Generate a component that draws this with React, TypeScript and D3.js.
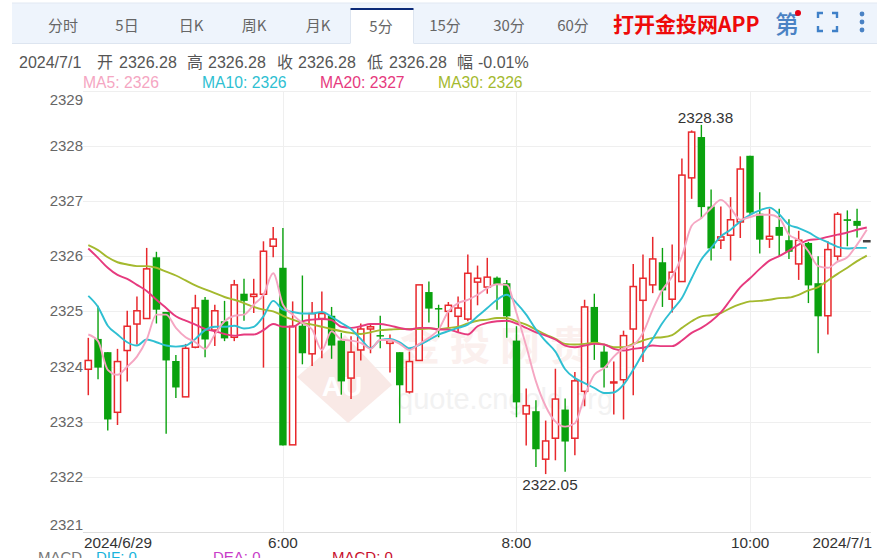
import { scaleLinear, line as d3line, curveMonotoneX } from "d3";

const tabs = ["分时", "5日", "日K", "周K", "月K", "5分", "15分", "30分", "60分"];
const tabCenters = [63, 127, 191, 254, 318, 381, 445, 509, 573];
const activeTab = 5;

const priceTicks = [2329, 2328, 2327, 2326, 2325, 2324, 2323, 2322, 2321];
const timeLabels = ["6:00", "8:00", "10:00"];
const timeIndex = [20, 44, 68];

const infoParts = ["2024/7/1", "开", "2326.28", "高", "2326.28", "收", "2326.28", "低", "2326.28", "幅", "-0.01%"];
const infoX = [19, 97, 119, 187, 208, 277, 298, 367, 389, 457, 478];

const maLabels = ["MA5: 2326", "MA10: 2326", "MA20: 2327", "MA30: 2326"];
const maLabelX = [83, 202, 320, 438];
const maColors = ["#f5a6c2", "#2fbfd2", "#e63a7e", "#a4b92e"];

const opens = [2323.95, 2324.5, 2324.26, 2323.17, 2324.29, 2324.77, 2324.87, 2325.98, 2324.99, 2324.1, 2323.45, 2324.35, 2325.21, 2324.66, 2324.82, 2324.53, 2325.32, 2325.27, 2325.31, 2326.18, 2325.79, 2322.58, 2324.74, 2324.23, 2324.87, 2324.92, 2324.47, 2323.79, 2324.3, 2324.68, 2324.57, 2324.42, 2324.26, 2323.54, 2324.11, 2325.35, 2325.06, 2325.0, 2324.91, 2324.86, 2325.53, 2325.44, 2325.61, 2325.51, 2324.47, 2323.14, 2323.19, 2322.32, 2322.7, 2323.22, 2322.7, 2323.55, 2325.08, 2324.27, 2323.71, 2323.76, 2324.68, 2325.2, 2325.48, 2325.89, 2325.22, 2325.54, 2327.42, 2328.16, 2326.9, 2326.29, 2326.38, 2326.62, 2327.82, 2326.77, 2326.31, 2326.53, 2326.29, 2325.86, 2326.24, 2325.51, 2324.92, 2326.0, 2326.67, 2326.64, 2326.28];
const closes = [2324.11, 2323.98, 2323.04, 2324.09, 2324.73, 2325.01, 2325.77, 2325.03, 2324.11, 2323.62, 2324.33, 2325.06, 2324.49, 2325.01, 2324.51, 2325.48, 2325.19, 2325.31, 2326.09, 2326.31, 2322.57, 2324.73, 2324.24, 2324.96, 2324.96, 2324.38, 2323.73, 2324.26, 2324.68, 2324.72, 2324.55, 2324.47, 2323.66, 2324.09, 2325.48, 2325.05, 2325.04, 2325.11, 2325.06, 2325.69, 2325.6, 2325.62, 2325.48, 2324.91, 2323.35, 2323.29, 2322.5, 2322.65, 2323.41, 2322.64, 2323.74, 2325.08, 2324.43, 2323.98, 2323.72, 2324.56, 2325.45, 2325.6, 2325.95, 2325.38, 2325.71, 2327.47, 2328.25, 2326.89, 2326.14, 2326.35, 2326.66, 2327.58, 2326.79, 2326.3, 2326.36, 2326.37, 2326.08, 2326.29, 2325.47, 2324.91, 2326.12, 2326.76, 2326.64, 2326.55, 2326.28];
const highs = [2324.52, 2325.1, 2324.26, 2324.32, 2325.01, 2325.27, 2326.15, 2326.08, 2324.99, 2324.21, 2324.41, 2325.3, 2325.26, 2325.12, 2325.19, 2325.57, 2325.59, 2325.59, 2326.27, 2326.53, 2326.51, 2325.18, 2325.65, 2325.17, 2325.36, 2325.08, 2324.61, 2324.55, 2324.78, 2324.78, 2324.92, 2324.58, 2324.26, 2324.27, 2325.48, 2325.54, 2325.12, 2325.17, 2325.27, 2326.03, 2325.83, 2325.97, 2325.63, 2325.57, 2324.73, 2323.6, 2323.39, 2323.02, 2323.96, 2323.42, 2323.9, 2325.21, 2325.32, 2324.38, 2324.09, 2324.65, 2325.86, 2326.03, 2326.35, 2326.15, 2326.21, 2327.77, 2328.28, 2328.38, 2327.21, 2326.9, 2327.07, 2327.81, 2327.82, 2327.16, 2326.86, 2326.86, 2326.67, 2326.46, 2326.26, 2326.0, 2326.27, 2326.8, 2326.83, 2326.86, 2326.28];
const lows = [2323.48, 2323.77, 2322.84, 2322.94, 2323.73, 2324.4, 2324.87, 2324.78, 2322.78, 2323.43, 2323.45, 2324.33, 2324.17, 2324.37, 2324.46, 2324.46, 2324.83, 2324.97, 2323.98, 2325.98, 2322.57, 2322.58, 2324.04, 2324.01, 2324.15, 2324.14, 2323.49, 2323.41, 2324.11, 2324.24, 2324.33, 2323.89, 2322.97, 2323.51, 2324.11, 2324.8, 2324.53, 2324.7, 2324.62, 2324.82, 2325.11, 2325.32, 2325.03, 2324.52, 2323.08, 2322.57, 2322.18, 2322.05, 2322.3, 2322.09, 2322.39, 2323.28, 2324.12, 2323.62, 2323.13, 2323.04, 2323.48, 2324.08, 2325.33, 2325.08, 2324.98, 2325.54, 2327.04, 2326.68, 2325.92, 2326.13, 2325.92, 2326.33, 2326.75, 2326.05, 2326.15, 2326.01, 2325.95, 2325.57, 2325.15, 2324.24, 2324.58, 2325.92, 2326.18, 2326.34, 2326.28];

const ma5 = [2324.58, 2324.46, 2323.94, 2323.85, 2324.0, 2324.18, 2324.49, 2324.94, 2324.94, 2324.7, 2324.53, 2324.44, 2324.32, 2324.58, 2324.82, 2324.92, 2324.94, 2325.12, 2325.3, 2325.69, 2325.12, 2324.94, 2324.79, 2324.67, 2324.3, 2324.64, 2324.49, 2324.47, 2324.43, 2324.32, 2324.48, 2324.48, 2324.41, 2324.3, 2324.41, 2324.52, 2324.67, 2325.0, 2325.15, 2325.21, 2325.3, 2325.42, 2325.49, 2325.48, 2324.97, 2324.37, 2323.73, 2323.28, 2323.0, 2322.91, 2322.97, 2323.46, 2323.85, 2323.97, 2324.18, 2324.33, 2324.39, 2324.61, 2325.03, 2325.39, 2325.63, 2326.0, 2326.55, 2326.69, 2326.87, 2327.02, 2326.87, 2326.66, 2326.71, 2326.75, 2326.75, 2326.69, 2326.39, 2326.29, 2326.09, 2325.82, 2325.79, 2325.9, 2325.98, 2326.21, 2326.48];
const ma10 = [2325.28, 2325.08, 2324.74, 2324.58, 2324.44, 2324.38, 2324.49, 2324.44, 2324.38, 2324.36, 2324.38, 2324.5, 2324.66, 2324.72, 2324.72, 2324.74, 2324.69, 2324.72, 2324.91, 2325.19, 2325.03, 2324.99, 2324.96, 2324.96, 2324.99, 2324.9, 2324.79, 2324.68, 2324.5, 2324.33, 2324.48, 2324.5, 2324.44, 2324.33, 2324.39, 2324.48, 2324.58, 2324.64, 2324.7, 2324.76, 2324.91, 2325.06, 2325.21, 2325.3, 2325.15, 2324.94, 2324.67, 2324.46, 2324.27, 2323.95, 2323.79, 2323.7, 2323.61, 2323.52, 2323.53, 2323.67, 2323.94, 2324.24, 2324.5, 2324.79, 2325.02, 2325.24, 2325.6, 2325.94, 2326.15, 2326.36, 2326.48, 2326.63, 2326.75, 2326.83, 2326.88, 2326.76, 2326.57, 2326.51, 2326.43, 2326.33, 2326.25, 2326.17, 2326.14, 2326.15, 2326.15];
const ma20 = [2326.14, 2325.97, 2325.79, 2325.66, 2325.59, 2325.48, 2325.37, 2325.21, 2325.06, 2324.91, 2324.83, 2324.76, 2324.68, 2324.64, 2324.59, 2324.56, 2324.58, 2324.58, 2324.66, 2324.77, 2324.72, 2324.72, 2324.82, 2324.85, 2324.86, 2324.84, 2324.72, 2324.7, 2324.73, 2324.77, 2324.77, 2324.74, 2324.7, 2324.67, 2324.7, 2324.7, 2324.67, 2324.67, 2324.62, 2324.58, 2324.73, 2324.79, 2324.82, 2324.83, 2324.78, 2324.7, 2324.62, 2324.56, 2324.49, 2324.38, 2324.35, 2324.38, 2324.41, 2324.4, 2324.32, 2324.29, 2324.32, 2324.34, 2324.38, 2324.37, 2324.37, 2324.47, 2324.61, 2324.7, 2324.82, 2324.98, 2325.21, 2325.44, 2325.6, 2325.77, 2325.92, 2326.0, 2326.1, 2326.21, 2326.29, 2326.31, 2326.35, 2326.39, 2326.43, 2326.48, 2326.52];
const ma30 = [2326.2, 2326.11, 2325.98, 2325.89, 2325.85, 2325.82, 2325.82, 2325.79, 2325.72, 2325.65, 2325.56, 2325.47, 2325.4, 2325.33, 2325.26, 2325.21, 2325.15, 2325.08, 2325.03, 2325.0, 2324.92, 2324.85, 2324.79, 2324.76, 2324.72, 2324.68, 2324.64, 2324.61, 2324.59, 2324.62, 2324.66, 2324.67, 2324.68, 2324.68, 2324.68, 2324.69, 2324.68, 2324.7, 2324.72, 2324.78, 2324.83, 2324.85, 2324.88, 2324.88, 2324.82, 2324.76, 2324.67, 2324.58, 2324.5, 2324.41, 2324.4, 2324.41, 2324.43, 2324.4, 2324.35, 2324.35, 2324.41, 2324.47, 2324.52, 2324.53, 2324.57, 2324.7, 2324.82, 2324.91, 2324.93, 2324.97, 2325.06, 2325.13, 2325.18, 2325.19, 2325.21, 2325.24, 2325.25, 2325.3, 2325.38, 2325.44, 2325.56, 2325.68, 2325.79, 2325.91, 2326.01];

const RED = "#e8282c";
const GREEN = "#0aa20e";
const SANS = "'Liberation Sans', Arial, 'Noto Sans CJK SC', sans-serif";
const CJK = "'Noto Sans CJK SC', sans-serif";

export default function App() {
  let x = scaleLinear().domain([0, 80]).range([88.3, 866.8]);
  let y = scaleLinear().domain([2321, 2329]).range([532, 90.7]);

  let maLine = d3line<number>()
    .x((_, i) => x(i))
    .y((d) => y(d))
    .curve(curveMonotoneX);

  const barW = 6.2;

  return (
    <svg width={889} height={558} style={{ position: "absolute", left: 0, top: 0, background: "#fff" }} fontFamily={SANS}>
      {/* toolbar */}
      <rect x={12} y={3} width={865} height={40} fill="#eef4fc" />
      <line x1={12} x2={877} y1={3} y2={3} stroke="#e1e8f2" />
      <line x1={12} x2={877} y1={43.5} y2={43.5} stroke="#dde5f0" />
      <rect x={350.5} y={8} width={63} height={37} fill="#fff" />
      <line x1={350.5} x2={350.5} y1={9} y2={43} stroke="#dde5f0" />
      <line x1={413.5} x2={413.5} y1={9} y2={43} stroke="#dde5f0" />
      <rect x={350.5} y={8} width={63} height={2} fill="#0c2a78" />
      {tabs.map((t, i) => (
        <text key={t} x={tabCenters[i]} y={i === activeTab ? 32 : 31} textAnchor="middle" fontSize={15} fill="#666" fontFamily={CJK}>
          {t}
        </text>
      ))}
      <text x={613} y={32} fontSize={21} fontWeight="bold" fill="#ee0a0a" fontFamily={CJK}>打开金投网APP</text>
      <text x={787} y={33} textAnchor="middle" fontSize={24} fontWeight="500" fill="#4a82c4" fontFamily={CJK}>第</text>
      <circle cx={798} cy={13} r={3} fill="#e60012" />
      <path d="M818 18v-5h5M832 13h5v5M837 26v5h-5M823 31h-5v-5" fill="none" stroke="#3f80c8" strokeWidth={2.4} />
      <circle cx={862} cy={14} r={2.4} fill="#4a82c4" />
      <circle cx={862} cy={22} r={2.4} fill="#4a82c4" />
      <circle cx={862} cy={30} r={2.4} fill="#4a82c4" />

      {/* info row */}
      {infoParts.map((t, i) => (
        <text key={i} x={infoX[i]} y={67.5} fontSize={16} fill="#555">{t}</text>
      ))}
      {maLabels.map((t, i) => (
        <text key={t} x={maLabelX[i]} y={87.5} fontSize={15.7} fill={maColors[i]}>{t}</text>
      ))}

      {/* grid */}
      {priceTicks.map((p) => (
        <line key={p} x1={83} x2={871} y1={Math.round(y(p)) + 0.5} y2={Math.round(y(p)) + 0.5} stroke={p === 2321 ? "#ddd" : "#efefef"} />
      ))}
      {timeIndex.map((ti) => (
        <line key={ti} x1={Math.round(x(ti)) + 0.5} x2={Math.round(x(ti)) + 0.5} y1={92} y2={532} stroke="#efefef" />
      ))}

      {/* watermark */}
      <g>
        <path d="M297 377L345 335L392 385L348 423Z" fill="#f9e9e6" />
        <text x={342} y={396} textAnchor="middle" fontSize={28} fill="#fff" fontWeight="bold">AU</text>
        <text x={400} y={360} fontSize={40} letterSpacing={10} fontWeight="bold" fill="#fbf0ee" fontFamily={CJK}>金投网贵</text>
        <text x={397} y={409} fontSize={29} fill="#f2f2f2">quote.cngold.org</text>
      </g>

      {/* y axis */}
      {priceTicks.map((p, i) => (
        <text key={p} x={83} y={(i === 0 ? 100 : i === priceTicks.length - 1 ? 525 : y(p)) + 5} textAnchor="end" fontSize={15} fill="#666">
          {p}
        </text>
      ))}

      {/* x axis */}
      <text x={84} y={548} fontSize={15.3} fill="#333">2024/6/29</text>
      {timeLabels.map((t, i) => (
        <text key={t} x={x(timeIndex[i])} y={548} textAnchor="middle" fontSize={15.3} fill="#333">{t}</text>
      ))}
      <text x={872} y={548} textAnchor="end" fontSize={15.3} fill="#333">2024/7/1</text>

      {/* candles */}
      {opens.map((o, i) => {
        const c = closes[i];
        const color = c > o ? RED : c < o ? GREEN : "#444";
        const top = y(Math.max(o, c));
        const bottom = y(Math.min(o, c));
        const cx = x(i);
        if (c >= o) {
          return (
            <g key={i} stroke={color} fill="none" strokeWidth={1.5}>
              <line x1={cx} x2={cx} y1={y(highs[i])} y2={top} />
              <line x1={cx} x2={cx} y1={bottom} y2={y(lows[i])} />
              <rect x={cx - barW / 2} y={top} width={barW} height={Math.max(bottom - top, 1)} fill={c === o ? color : "#fff"} />
            </g>
          );
        }
        return (
          <g key={i}>
            <line x1={cx} x2={cx} y1={y(highs[i])} y2={y(lows[i])} stroke={color} strokeWidth={1.4} />
            <rect x={cx - barW / 2 - 0.6} y={top} width={barW + 1.2} height={Math.max(bottom - top, 1.5)} fill={color} />
          </g>
        );
      })}

      {/* moving averages */}
      {[ma30, ma20, ma10, ma5].map((m, i) => (
        <path key={i} d={maLine(m) ?? undefined} fill="none" stroke={maColors[3 - i]} strokeWidth={1.9} />
      ))}

      {/* extremes */}
      <text x={705.5} y={122.5} textAnchor="middle" fontSize={15.3} fill="#333">2328.38</text>
      <text x={550} y={489.5} textAnchor="middle" fontSize={15.3} fill="#333">2322.05</text>

      {/* macd strip */}
      <text x={38} y={562} fontSize={15} fill="#777">MACD</text>
      <text x={96} y={562} fontSize={15} fill="#18b4dc">DIF: 0</text>
      <text x={213} y={562} fontSize={15} fill="#c83cc8">DEA: 0</text>
      <text x={332} y={562} fontSize={15} fill="#c8102e">MACD: 0</text>
    </svg>
  );
}
